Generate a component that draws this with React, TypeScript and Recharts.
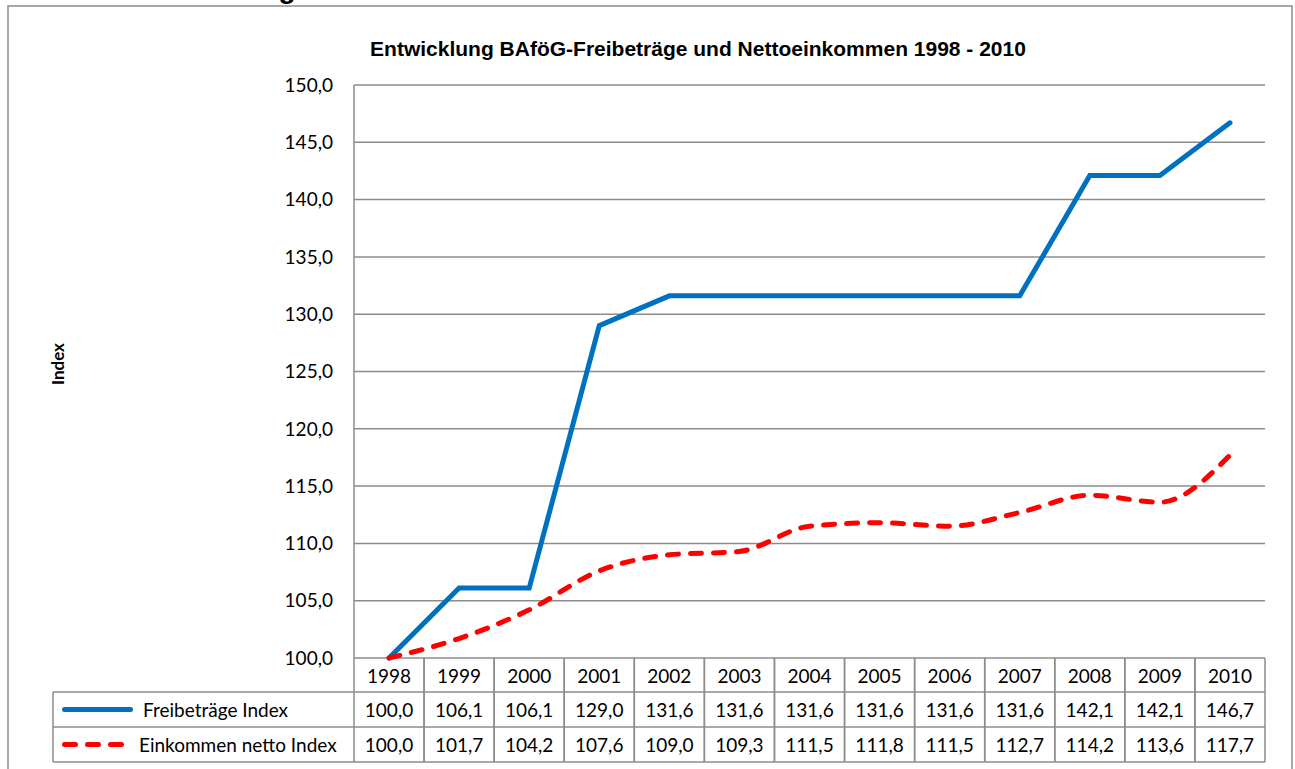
import React from 'react';
import { LineChart, Line, XAxis, YAxis, CartesianGrid } from 'recharts';

const years = ['1998', '1999', '2000', '2001', '2002', '2003', '2004', '2005', '2006', '2007', '2008', '2009', '2010'];
const freibetraege = [100.0, 106.1, 106.1, 129.0, 131.6, 131.6, 131.6, 131.6, 131.6, 131.6, 142.1, 142.1, 146.7];
const einkommen = [100.0, 101.7, 104.2, 107.6, 109.0, 109.3, 111.5, 111.8, 111.5, 112.7, 114.2, 113.6, 117.7];
const yTicks = [100, 105, 110, 115, 120, 125, 130, 135, 140, 145, 150];
const seriesNames = ['Freibeträge Index', 'Einkommen netto Index'];
const chartTitle = 'Entwicklung BAföG-Freibeträge und Nettoeinkommen 1998 - 2010';
const axisTitle = 'Index';

const data = years.map((y, i) => ({ year: y, f: freibetraege[i], e: einkommen[i] }));

const W = 1295;
const H = 769;
const M = { top: 85, right: 30, bottom: 7, left: 274 };
const Y_AXIS_W = 80;
const X_AXIS_H = 104;
const PLOT_W = W - M.left - Y_AXIS_W - M.right;
const CELL = PLOT_W / years.length;
const ROW = [0, 34, 69, 104];
const GRID = '#8c8c8c';
const FONT = 'Lato, "Noto Sans", sans-serif';
const FS = 19;
const BLUE = '#0070C0';
const RED = '#FF0000';
const LEGEND_W = 301;

const fmt = (v: number) => v.toFixed(1).replace('.', ',');

const TableTick = (props: any) => {
  const { x, y, payload } = props;
  const i = years.indexOf(payload.value);
  const l = x - CELL / 2;
  const r = x + CELL / 2;
  const t = y;
  const txt = { fontFamily: FONT, fontSize: FS, fill: '#000' } as any;
  return (
    <g>
      <line x1={l} x2={l} y1={t} y2={t + ROW[3]} stroke={GRID} strokeWidth={1.5} />
      <line x1={r} x2={r} y1={t} y2={t + ROW[3]} stroke={GRID} strokeWidth={1.5} />
      <line x1={l} x2={r} y1={t + ROW[1]} y2={t + ROW[1]} stroke={GRID} strokeWidth={1.5} />
      <line x1={l} x2={r} y1={t + ROW[2]} y2={t + ROW[2]} stroke={GRID} strokeWidth={1.5} />
      <line x1={l} x2={r} y1={t + ROW[3]} y2={t + ROW[3]} stroke={GRID} strokeWidth={1.5} />
      <text x={x} y={(t + ROW[0] + t + ROW[1]) / 2} textAnchor="middle" dominantBaseline="central" {...txt}>{payload.value}</text>
      <text x={x} y={(t + ROW[1] + t + ROW[2]) / 2} textAnchor="middle" dominantBaseline="central" {...txt}>{fmt(freibetraege[i])}</text>
      <text x={x} y={(t + ROW[2] + t + ROW[3]) / 2} textAnchor="middle" dominantBaseline="central" {...txt}>{fmt(einkommen[i])}</text>
      {i === 0 && (
        <g>
          <line x1={l - LEGEND_W} x2={l} y1={t + ROW[1]} y2={t + ROW[1]} stroke={GRID} strokeWidth={1.5} />
          <line x1={l - LEGEND_W} x2={l} y1={t + ROW[2]} y2={t + ROW[2]} stroke={GRID} strokeWidth={1.5} />
          <line x1={l - LEGEND_W} x2={l} y1={t + ROW[3]} y2={t + ROW[3]} stroke={GRID} strokeWidth={1.5} />
          <line x1={l - LEGEND_W} x2={l - LEGEND_W} y1={t + ROW[1]} y2={t + ROW[3]} stroke={GRID} strokeWidth={1.5} />
          <line x1={l - LEGEND_W + 11.5} x2={l - LEGEND_W + 77.5} y1={(t + ROW[1] + t + ROW[2]) / 2} y2={(t + ROW[1] + t + ROW[2]) / 2} stroke={BLUE} strokeWidth={5} strokeLinecap="round" />
          <text x={l - LEGEND_W + 90} y={(t + ROW[1] + t + ROW[2]) / 2} dominantBaseline="central" {...txt}>{seriesNames[0]}</text>
          <line x1={l - LEGEND_W + 11.5} x2={l - LEGEND_W + 68.5} y1={(t + ROW[2] + t + ROW[3]) / 2} y2={(t + ROW[2] + t + ROW[3]) / 2} stroke={RED} strokeWidth={5} strokeLinecap="round" strokeDasharray="11 12" />
          <text x={l - LEGEND_W + 86} y={(t + ROW[2] + t + ROW[3]) / 2} dominantBaseline="central" {...txt}>{seriesNames[1]}</text>
        </g>
      )}
    </g>
  );
};

export default function App() {
  return (
    <div style={{ position: 'absolute', left: 0, top: 0, width: W, height: H, overflow: 'hidden', background: '#fff' }}>
      <LineChart width={W} height={H} data={data} margin={M}>
        <CartesianGrid vertical={false} stroke={GRID} strokeWidth={1.5} />
        <XAxis
          dataKey="year"
          interval={0}
          padding={{ left: CELL / 2, right: CELL / 2 }}
          axisLine={false}
          tickLine={false}
          tickSize={0}
          tickMargin={0}
          height={X_AXIS_H}
          tick={<TableTick />}
        />
        <YAxis
          type="number"
          domain={[100, 150]}
          ticks={yTicks}
          width={Y_AXIS_W}
          tickFormatter={fmt}
          axisLine={{ stroke: GRID, strokeWidth: 1.5 }}
          tickLine={false}
          tickSize={0}
          tickMargin={21}
          tick={{ fill: '#000', fontSize: FS, fontFamily: FONT }}
          interval={0}
        />
        <Line dataKey="f" name={seriesNames[0]} type="linear" stroke={BLUE} strokeWidth={5} dot={false} strokeLinecap="round" isAnimationActive={false} />
        <Line dataKey="e" name={seriesNames[1]} type="monotone" stroke={RED} strokeWidth={5} dot={false} strokeLinecap="round" strokeDasharray="11 12" isAnimationActive={false} />
      </LineChart>
      <svg width={W} height={H} style={{ position: 'absolute', left: 0, top: 0, pointerEvents: 'none' }}>
        <rect x={8} y={6} width={1284} height={820} fill="none" stroke={GRID} strokeWidth={1.5} />
        <text x={287} y={-2} textAnchor="middle" fontFamily='"Liberation Sans", Arial, sans-serif' fontWeight="bold" fontSize={28} fill="#000">g</text>
        <text x={698} y={48} textAnchor="middle" dominantBaseline="central" fontFamily='"Liberation Sans", Arial, sans-serif' fontWeight="bold" fontSize={21} fill="#000">{chartTitle}</text>
        <text x={57} y={364} textAnchor="middle" dominantBaseline="central" transform="rotate(-90 57 364)" fontFamily={FONT} fontWeight="bold" fontSize={17} fill="#000">{axisTitle}</text>
      </svg>
    </div>
  );
}
